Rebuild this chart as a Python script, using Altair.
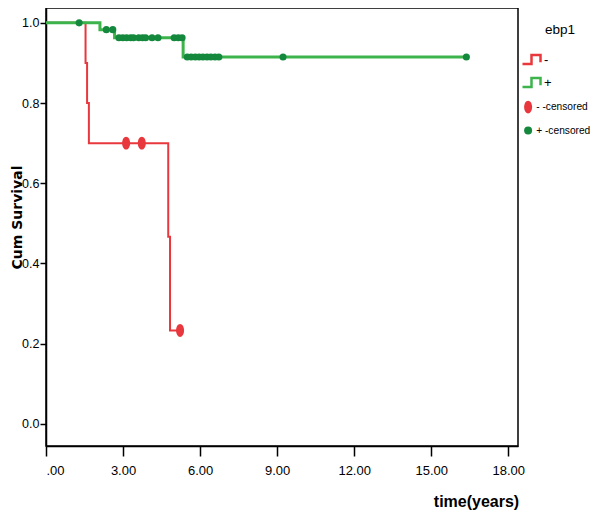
import altair as alt
import pandas as pd

# Kaplan-Meier step data
red_time = [0.0, 1.54, 1.60, 1.67, 4.76, 4.83, 5.22]
red_surv = [1.0, 0.90, 0.80, 0.70, 0.467, 0.233, 0.233]
green_time = [0.0, 2.10, 2.67, 5.34, 16.37]
green_surv = [1.0, 0.983, 0.963, 0.915, 0.915]

red_cens_time = [3.12, 3.73, 5.22]
red_cens_surv = [0.70, 0.70, 0.233]
green_cens_time = [1.29, 2.35, 2.60, 2.84, 2.99, 3.14, 3.30, 3.41, 3.61, 3.76,
                   3.88, 4.13, 4.36, 4.99, 5.15, 5.30, 5.50, 5.65, 5.81, 5.96,
                   6.11, 6.27, 6.42, 6.58, 6.73, 9.23, 16.37]
green_cens_surv = [1.0, 0.983, 0.983] + [0.963] * 13 + [0.915] * 11

groups = ["-", "+"]
cens_groups = ["- -censored", "+ -censored"]
x_ticks = [0, 3, 6, 9, 12, 15, 18]
y_ticks = [0.0, 0.2, 0.4, 0.6, 0.8, 1.0]

RED = "#e8383d"
GREEN_LINE = "#3cb44b"
GREEN_PT = "#14883c"

red_df = pd.DataFrame({"t": red_time, "s": red_surv, "g": "-", "sw": 2.0})
green_df = pd.DataFrame({"t": green_time, "s": green_surv, "g": "+", "sw": 3.0})
cens_df = pd.DataFrame({
    "t": red_cens_time + green_cens_time,
    "s": red_cens_surv + green_cens_surv,
    "c": ["- -censored"] * len(red_cens_time) + ["+ -censored"] * len(green_cens_time),
    "sz": [64] * len(red_cens_time) + [50] * len(green_cens_time),
})

FONT = "Liberation Sans"

xscale = alt.Scale(domain=[0, 18.38], nice=False, zero=False)
yscale = alt.Scale(domain=[-0.055, 1.037], nice=False, zero=False)

xenc = alt.X("t:Q", scale=xscale, axis=alt.Axis(
    values=x_ticks, title="time(years)",
    labelExpr="datum.value == 0 ? '.00' : format(datum.value, '.2f')",
    tickSize=10, labelPadding=8, grid=False,
    titleX=430, titleY=60, titleAlign="center", titleBaseline="alphabetic",
    titleFont=FONT, titleFontSize=16, titleFontWeight="bold",
))
yenc = alt.Y("s:Q", scale=yscale, axis=alt.Axis(
    values=y_ticks, format=".1f", title="Cum Survival",
    tickSize=6, labelPadding=1, grid=False, labelFontSize=12.5,
    titleX=-25, titleY=209, titleAngle=270, titleAlign="center",
    titleBaseline="alphabetic",
    titleFont="DejaVu Sans", titleFontSize=14, titleFontWeight="bold",
))

STEP = "M-1,0.5H0V-0.5H1V0.3"
ELLIPSE = "M0,-1.6A1,1.6 0 1,1 0,1.6A1,1.6 0 1,1 0,-1.6Z"

stroke_enc = alt.Stroke("g:N", scale=alt.Scale(domain=groups, range=[RED, GREEN_LINE]),
                        legend=alt.Legend(
                            title=None, orient="none", legendX=475, legendY=41,
                            symbolType=STEP, symbolSize=324, symbolStrokeWidth=2.5,
                            symbolFillColor="transparent", labelFontSize=13,
                            labelOffset=2, rowPadding=3, padding=0,
                        ))

red_line = alt.Chart(red_df).mark_line(interpolate="step-after").encode(
    x=xenc, y=yenc, stroke=stroke_enc,
    strokeWidth=alt.StrokeWidth("sw:Q", scale=None),
)
green_line = alt.Chart(green_df).mark_line(interpolate="step-after").encode(
    x=xenc, y=yenc, stroke=stroke_enc,
    strokeWidth=alt.StrokeWidth("sw:Q", scale=None),
)

cens_legend = alt.Legend(title=None, orient="none", legendX=477, legendY=94,
                         symbolSize=64, labelOffset=3, rowPadding=11.5,
                         labelFontSize=10.2, padding=0, symbolStrokeWidth=0)
points = alt.Chart(cens_df).mark_point(filled=True, opacity=1).encode(
    x=xenc, y=yenc,
    color=alt.Color("c:N", scale=alt.Scale(domain=cens_groups, range=[RED, GREEN_PT]),
                    legend=cens_legend),
    shape=alt.Shape("c:N", scale=alt.Scale(domain=cens_groups, range=[ELLIPSE, "circle"]),
                    legend=cens_legend),
    size=alt.Size("sz:Q", scale=None),
)

chart = alt.layer(red_line, green_line, points).properties(
    width=472, height=438,
    background="white",
    title=alt.TitleParams("ebp1", orient="top", anchor="start", frame="group",
                          dx=499, dy=39, offset=0, baseline="alphabetic",
                          font=FONT, fontSize=13.5, fontWeight="normal", color="#000"),
    autosize=alt.AutoSizeParams(type="none"),
    padding={"left": 38, "top": 0, "right": 74, "bottom": 64},
).configure_view(
    stroke="#000", strokeWidth=1.5
).configure_axis(
    domainColor="#000", domainWidth=1.5, tickColor="#000", tickWidth=1.5,
    labelFont=FONT, labelFontSize=13, labelColor="#000", titleColor="#000",
).configure_legend(
    labelFont=FONT, labelColor="#000",
)

chart.save("out.html", embed_options={"renderer": "svg", "actions": False})
